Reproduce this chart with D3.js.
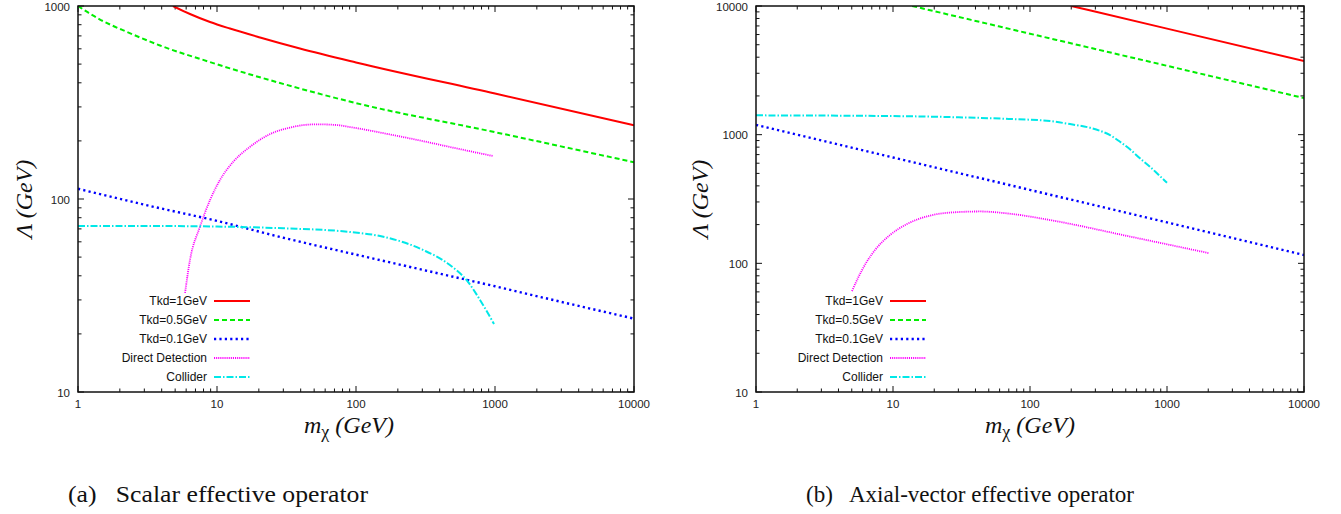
<!DOCTYPE html>
<html><head><meta charset="utf-8">
<script src="https://cdn.jsdelivr.net/npm/d3@7/dist/d3.min.js"></script>
<style>
body{margin:0;background:#fff;}
svg{display:block;}
</style></head>
<body>
<svg id="c" width="1341" height="514"></svg>
<script>
// ---------- data ----------
const xTickValues = [1, 10, 100, 1000, 10000];
const yTicksScalar = [10, 100, 1000];
const yTicksAxial = [10, 100, 1000, 10000];
const seriesNames = ["Tkd=1GeV", "Tkd=0.5GeV", "Tkd=0.1GeV", "Direct Detection", "Collider"];
const captions = ["(a)   Scalar effective operator", "(b)   Axial-vector effective operator"];

// scalar operator (panel a): [m_chi (GeV), Lambda (GeV)]
const scalarTkd1 = [[4.82,1000],[6.39,909],[8.91,826],[12.4,764],[20.4,687],[39.5,602],[100,510],[1000,352],[10000,241]];
const scalarTkd05 = [[1,1000],[1.18,926],[1.44,851],[1.7,802],[2.18,741],[2.79,687],[3.89,624],[5.42,574],[7.55,532],[12.4,475],[28.4,399],[100,314],[1000,222],[10000,155]];
const scalarTkd01 = [[1,113],[3.3,92],[10,77],[30,63],[100,51.5],[300,43],[1000,35.3],[3000,29.3],[10000,24]];
const scalarDirect = [[5.89,32.6],[6.39,48.3],[7.55,71.9],[8.91,98.8],[10.5,125.4],[13.1,156],[17.3,186.6],[24.1,217],[33.5,234.6],[52.2,243.8],[72.6,241.7],[90.5,236],[200,212],[298,200],[474,186],[967,167]];
const scalarCollider = [[1,72.5],[3,72.5],[10,72],[30,70.5],[90,67.5],[149,64.3],[303,54.5],[452,46.6],[639,37.2],[780,30],[984,22.5]];

// axial-vector operator (panel b)
const axialTkd1 = [[200,10000],[1000,6670],[10000,3730]];
const axialTkd05 = [[13.8,10000],[100,6090],[1000,3430],[10000,1925]];
const axialTkd01 = [[1,1190],[10,665],[100,372],[1000,208],[10000,116]];
const axialDirect = [[5.02,60.9],[5.55,76.9],[6.35,100.5],[7.39,126.9],[9.51,166],[12.65,202],[18.6,235],[29.3,250],[43.2,253],[69.1,244],[140,217],[537,161.5],[2026,120]];
const axialCollider = [[1,1413],[10,1395],[30,1365],[70,1325],[140,1276],[196,1208],[274,1132],[324,1072],[384,993],[454,881],[537,769],[635,655],[752,563],[889,476],[1000,423]];

// ---------- styles ----------
const styles = [
  {color:"#ff0000", width:2,   dash:null},
  {color:"#00ee00", width:2,   dash:"5,3"},
  {color:"#0000ff", width:2.4, dash:"2.2,3.2"},
  {color:"#ff00ff", width:1.8, dash:"1.1,1"},
  {color:"#00e8e8", width:2,   dash:"7,2,1.5,2"}
];

const svg = d3.select("#c");

const panels = [
  {x0:78, x1:634, y0:6, y1:392, yDomain:[10,1000], yTicks:yTicksScalar,
   series:[scalarTkd1, scalarTkd05, scalarTkd01, scalarDirect, scalarCollider],
   legX:207, yLabX:32, xLabX:349, capX:68, capW:300},
  {x0:756, x1:1304, y0:6, y1:392, yDomain:[10,10000], yTicks:yTicksAxial,
   series:[axialTkd1, axialTkd05, axialTkd01, axialDirect, axialCollider],
   legX:883, yLabX:708, xLabX:1030, capX:806, capW:328}
];

panels.forEach((p, pi) => {
  const x = d3.scaleLog().domain([1,10000]).range([p.x0, p.x1]);
  const y = d3.scaleLog().domain(p.yDomain).range([p.y1, p.y0]);
  const g = svg.append("g");
  const clipId = "clip" + pi;
  svg.append("clipPath").attr("id", clipId).append("rect")
    .attr("x", p.x0).attr("y", p.y0).attr("width", p.x1 - p.x0).attr("height", p.y1 - p.y0);

  // ticks (inward, mirrored)
  const isMajor = v => Math.abs(Math.log10(v) - Math.round(Math.log10(v))) < 1e-9;
  const tg = g.append("g").attr("stroke", "#111").attr("stroke-width", 1);
  x.ticks().forEach(v => {
    const L = isMajor(v) ? 6 : 3.5;
    const px = x(v);
    tg.append("line").attr("x1", px).attr("x2", px).attr("y1", p.y1).attr("y2", p.y1 - L);
    tg.append("line").attr("x1", px).attr("x2", px).attr("y1", p.y0).attr("y2", p.y0 + L);
  });
  y.ticks().forEach(v => {
    const L = isMajor(v) ? 6 : 3.5;
    const py = y(v);
    tg.append("line").attr("x1", p.x0).attr("x2", p.x0 + L).attr("y1", py).attr("y2", py);
    tg.append("line").attr("x1", p.x1).attr("x2", p.x1 - L).attr("y1", py).attr("y2", py);
  });

  // tick labels
  const lab = g.append("g").attr("font-family", "'Liberation Sans', Arial, sans-serif")
    .attr("font-size", 11.5).attr("fill", "#222");
  xTickValues.forEach(v => {
    lab.append("text").attr("x", x(v)).attr("y", p.y1 + 16).attr("text-anchor", "middle").text(v);
  });
  p.yTicks.forEach(v => {
    lab.append("text").attr("x", p.x0 - 8).attr("y", y(v) + 4.5).attr("text-anchor", "end").text(v);
  });

  // curves
  const line = d3.line().x(d => x(d[0])).y(d => y(d[1])).curve(d3.curveMonotoneX);
  const cg = g.append("g").attr("clip-path", `url(#${clipId})`);
  p.series.forEach((s, i) => {
    const st = styles[i];
    cg.append("path").attr("d", line(s)).attr("fill", "none")
      .attr("stroke", st.color).attr("stroke-width", st.width)
      .attr("stroke-dasharray", st.dash);
  });

  // frame
  g.append("rect").attr("x", p.x0).attr("y", p.y0).attr("width", p.x1 - p.x0).attr("height", p.y1 - p.y0)
    .attr("fill", "none").attr("stroke", "#111").attr("stroke-width", 1.5);

  // legend
  const lg = g.append("g").attr("font-family", "'Liberation Sans', Arial, sans-serif")
    .attr("font-size", 12).attr("fill", "#111");
  seriesNames.forEach((n, i) => {
    const yy = 301 + i * 19;
    lg.append("text").attr("x", p.legX).attr("y", yy + 4).attr("text-anchor", "end").text(n);
    const st = styles[i];
    lg.append("line").attr("x1", p.legX + 7).attr("x2", p.legX + 43).attr("y1", yy).attr("y2", yy)
      .attr("stroke", st.color).attr("stroke-width", st.width).attr("stroke-dasharray", st.dash);
  });

  // axis labels
  svg.append("text").attr("transform", `translate(${p.yLabX},${(p.y0 + p.y1) / 2}) rotate(-90)`)
    .attr("text-anchor", "middle").attr("font-family", "'Liberation Serif', 'Times New Roman', serif")
    .attr("font-style", "italic").attr("font-size", 24).attr("fill", "#111")
    .text("Λ (GeV)");
  const xl = svg.append("text").attr("x", p.xLabX).attr("y", 433).attr("text-anchor", "middle")
    .attr("font-family", "'Liberation Serif', 'Times New Roman', serif")
    .attr("font-style", "italic").attr("font-size", 24).attr("fill", "#111");
  xl.append("tspan").text("m");
  xl.append("tspan").attr("dy", 5).attr("font-size", 18).attr("font-style", "normal").text("χ");
  xl.append("tspan").attr("dy", -5).text(" (GeV)");

  // caption
  svg.append("text").attr("x", p.capX).attr("y", 502)
    .attr("font-family", "'Liberation Serif', 'Times New Roman', serif")
    .attr("font-size", 24).attr("fill", "#111")
    .attr("textLength", p.capW).attr("lengthAdjust", "spacingAndGlyphs")
    .style("white-space", "pre").text(captions[pi]);
});
</script>
</body></html>
